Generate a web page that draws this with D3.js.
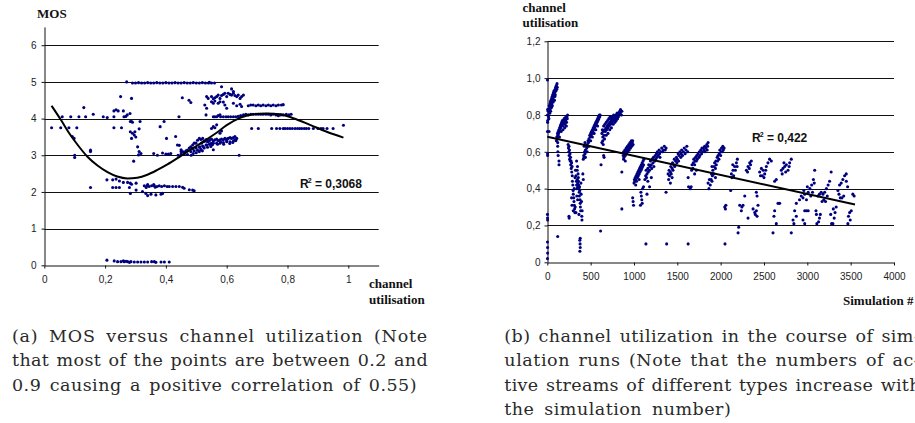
<!DOCTYPE html>
<html>
<head>
<meta charset="utf-8">
<script src="https://cdn.jsdelivr.net/npm/d3@7"></script>
<style>
  body { margin: 0; background: #fff; }
  .tick text { font-family: "Liberation Sans", Arial, sans-serif; font-size: 10px; fill: #222; }
  .title { font-family: "Liberation Serif", "Times New Roman", serif; font-weight: bold; font-size: 13px; fill: #111; }
  .r2 { font-family: "Liberation Sans", Arial, sans-serif; font-weight: bold; font-size: 12px; fill: #111; }
  .caption { font-family: "DejaVu Serif", serif; font-size: 17.5px; fill: #2a2a2a; }
</style>
</head>
<body>
<svg id="fig" width="915" height="423"></svg>
<script>
// ---- data: (a) MOS vs channel utilisation ----
const mosPoints = [
  [0.024,3.75],[0.054,3.75],[0.081,3.75],[0.107,3.75],[0.229,3.75],[0.254,3.75],
  [0.059,4.05],[0.087,4.05],[0.114,4.05],[0.136,4.05],[0.161,4.12],[0.194,4.05],[0.207,4.03],[0.229,4.05],[0.262,4.05],[0.273,4.1],[0.282,4.14],[0.268,4.06],
  [0.13,4.3],[0.092,3.51],[0.098,3.46],[0.1,3.0],[0.1,2.94],[0.152,3.14],[0.152,3.1],[0.152,2.12],
  [0.229,4.21],[0.236,4.24],[0.243,4.21],[0.26,4.21],[0.251,4.6],[0.287,4.55],
  [0.271,5.0],[0.29,4.97],[0.3,4.97],[0.31,4.98],[0.32,4.97],[0.33,4.97],[0.34,4.98],[0.35,4.97],[0.36,4.97],[0.37,4.98],[0.38,4.97],
  [0.39,4.97],[0.40,4.98],[0.41,4.97],[0.42,4.97],[0.43,4.98],[0.44,4.97],[0.45,4.97],[0.46,4.98],[0.47,4.97],[0.48,4.97],[0.49,4.98],
  [0.50,4.97],[0.51,4.97],[0.52,4.98],[0.53,4.97],[0.54,4.97],[0.543,4.99],[0.55,4.97],[0.56,4.97],
  [0.283,3.92],[0.287,3.92],[0.29,3.9],[0.315,3.92],[0.312,3.72],[0.283,3.64],[0.29,3.6],[0.296,3.55],[0.301,3.5],[0.298,3.64],[0.287,3.46],
  [0.307,3.23],[0.312,3.1],[0.318,3.05],[0.294,2.84],[0.31,3.01],
  [0.381,3.78],[0.394,3.92],[0.402,3.46],[0.432,3.51],[0.443,4.05],[0.454,4.57],[0.476,4.5],[0.482,4.44],
  [0.36,3.05],[0.372,3.0],[0.389,3.06],[0.4,3.03],[0.408,3.03],[0.416,3.05],
  [0.438,3.28],[0.444,3.27],[0.45,3.15],[0.455,3.1],[0.46,3.08],[0.466,3.12],[0.471,3.14],[0.477,3.2],[0.482,3.23],[0.488,3.28],[0.493,3.33],
  [0.499,3.33],[0.504,3.41],[0.51,3.46],[0.515,3.43],[0.521,3.46],[0.526,3.38],[0.532,3.42],[0.537,3.37],[0.543,3.4],[0.548,3.32],[0.553,3.29],
  [0.482,3.1],[0.488,3.18],[0.493,3.12],[0.499,3.2],[0.504,3.14],[0.51,3.22],[0.515,3.16],[0.521,3.25],[0.526,3.2],[0.532,3.28],[0.537,3.22],
  [0.543,3.3],[0.548,3.24],[0.553,3.33],[0.471,3.02],[0.46,3.02],[0.45,3.03],[0.44,3.0],[0.45,3.1],[0.483,3.0],[0.49,3.05],[0.5,3.07],
  [0.51,3.1],[0.52,3.12],
  [0.517,3.33],[0.523,3.37],[0.528,3.39],[0.534,3.42],[0.539,3.37],[0.545,3.42],[0.55,3.44],[0.556,3.39],[0.561,3.42],[0.567,3.44],[0.572,3.4],
  [0.578,3.42],[0.583,3.44],[0.589,3.42],[0.594,3.46],[0.6,3.44],[0.605,3.46],[0.611,3.48],[0.616,3.46],[0.622,3.48],[0.627,3.51],[0.633,3.46],
  [0.523,3.23],[0.534,3.28],[0.545,3.3],[0.556,3.33],[0.567,3.33],[0.578,3.33],[0.589,3.35],[0.6,3.37],[0.611,3.37],[0.622,3.39],[0.627,3.42],
  [0.556,3.15],[0.512,3.23],[0.57,3.3],[0.59,3.3],[0.61,3.32],[0.62,3.35],[0.63,3.4],[0.58,3.36],[0.6,3.4],
  [0.55,3.73],[0.556,3.78],[0.561,3.75],[0.567,3.83],[0.578,3.6],[0.583,3.66],
  [0.206,2.33],[0.225,2.33],[0.236,2.35],[0.247,2.3],[0.26,2.26],[0.274,2.26],[0.283,2.24],[0.287,2.21],[0.302,2.24],[0.225,2.12],[0.236,2.12],
  [0.247,2.12],[0.28,2.12],[0.283,1.96],[0.302,2.05],[0.323,2.01],[0.334,1.96],[0.34,1.9],[0.351,1.94],[0.367,1.92],[0.389,1.96],[0.384,1.94],
  [0.329,2.17],[0.338,2.17],[0.345,2.15],[0.353,2.17],[0.362,2.17],[0.371,2.15],[0.378,2.17],[0.386,2.15],[0.395,2.17],[0.404,2.15],[0.411,2.15],
  [0.422,2.15],[0.433,2.15],[0.444,2.15],[0.455,2.13],[0.34,2.2],[0.36,2.2],[0.46,2.1],[0.477,2.06],[0.488,2.05],[0.493,2.03],[0.335,2.12],[0.365,2.13],
  [0.206,0.14],[0.23,0.12],[0.241,0.1],[0.252,0.1],[0.263,0.1],[0.269,0.11],[0.274,0.1],[0.28,0.08],[0.285,0.1],[0.296,0.09],[0.307,0.09],
  [0.318,0.09],[0.329,0.09],[0.34,0.09],[0.353,0.1],[0.362,0.1],[0.367,0.08],[0.384,0.09],[0.395,0.09],[0.411,0.09],[0.26,0.12],
  [0.583,4.87],[0.616,4.81],[0.622,4.74],
  [0.534,4.6],[0.539,4.55],[0.55,4.6],[0.556,4.54],[0.561,4.57],[0.567,4.6],[0.572,4.64],[0.578,4.55],[0.583,4.63],[0.589,4.66],[0.594,4.69],
  [0.6,4.6],[0.605,4.69],[0.611,4.66],[0.616,4.64],[0.622,4.69],[0.627,4.63],[0.633,4.6],[0.638,4.64],[0.644,4.55],[0.649,4.6],[0.655,4.64],
  [0.55,4.46],[0.556,4.42],[0.561,4.48],[0.572,4.42],[0.578,4.46],[0.589,4.45],[0.594,4.37],[0.622,4.42],[0.633,4.35],[0.644,4.39],[0.649,4.33],
  [0.528,4.37],[0.534,4.28],[0.6,4.28],[0.561,4.05],[0.578,4.1],[0.532,4.1],
  [0.671,4.35],[0.679,4.37],[0.687,4.37],[0.696,4.35],[0.704,4.37],[0.712,4.35],[0.72,4.37],[0.729,4.35],[0.737,4.37],[0.745,4.35],[0.753,4.37],
  [0.762,4.35],[0.77,4.37],[0.78,4.37],[0.786,4.38],
  [0.556,4.05],[0.567,4.05],[0.572,4.08],[0.58,4.05],[0.589,4.05],[0.598,4.05],[0.605,4.05],[0.613,4.05],[0.622,4.05],[0.63,4.05],[0.638,4.06],
  [0.646,4.08],[0.655,4.1],[0.663,4.12],[0.671,4.1],[0.679,4.12],[0.687,4.12],[0.696,4.12],[0.704,4.12],[0.712,4.12],[0.72,4.12],[0.729,4.12],
  [0.737,4.12],[0.745,4.1],[0.753,4.12],[0.762,4.1],[0.77,4.08],[0.778,4.1],[0.786,4.1],[0.796,4.12],[0.805,4.1],[0.812,4.12],
  [0.682,3.73],[0.704,3.73],[0.748,3.73],[0.764,3.73],[0.775,3.73],[0.786,3.73],[0.792,3.73],[0.8,3.73],[0.808,3.73],[0.816,3.73],[0.825,3.73],
  [0.833,3.73],[0.84,3.73],[0.847,3.73],[0.855,3.73],[0.862,3.73],[0.87,3.73],[0.885,3.73],[0.9,3.73],[0.91,3.73],[0.917,3.73],[0.93,3.73],
  [0.95,3.73],[0.984,3.82],[0.641,3.0]
];
const mosTrend = [
  [0.024,4.35],[0.055,3.96],[0.082,3.6],[0.11,3.28],[0.142,2.96],[0.175,2.72],[0.208,2.54],[0.24,2.42],[0.273,2.37],[0.306,2.39],
  [0.339,2.47],[0.372,2.6],[0.405,2.75],[0.438,2.92],[0.471,3.1],[0.504,3.27],[0.536,3.44],[0.568,3.62],[0.6,3.82],[0.644,4.02],
  [0.687,4.12],[0.731,4.14],[0.775,4.12],[0.819,4.01],[0.874,3.83],[0.929,3.64],[0.984,3.48]
];
const mosYTicks = [0, 1, 2, 3, 4, 5, 6];
const mosXTicks = [0, 0.2, 0.4, 0.6, 0.8, 1];

// ---- data: (b) channel utilisation vs simulation number ----
const utilPoints = [
  [2,0.99],[3,0.83],[4,0.80],[3,0.76],[2,0.71],[3,0.59],[4,0.58],[2,0.26],[3,0.24],[4,0.23],[2,0.11],[3,0.08],[4,0.05],[2,0.02],[20,0.71],
  [5,0.77],[8,0.80],[10,0.82],[14,0.79],[16,0.83],[20,0.82],[22,0.85],[26,0.84],[30,0.86],[32,0.83],[36,0.87],[40,0.85],[42,0.88],
  [46,0.87],[50,0.89],[52,0.86],[56,0.90],[60,0.88],[62,0.91],[66,0.89],[70,0.92],[72,0.90],[76,0.93],[80,0.91],[82,0.88],[86,0.92],
  [90,0.94],[92,0.91],[96,0.95],[100,0.93],[104,0.96],[108,0.94],[112,0.97],[115,0.95],[18,0.78],[28,0.81],[38,0.82],[48,0.84],
  [58,0.85],[68,0.87],[78,0.88],[88,0.90],
  [120,0.14],[120,0.63],[122,0.6],[125,0.58],[135,0.55],[135,0.53],
  [105,0.66],[110,0.68],[115,0.67],[118,0.70],[122,0.69],[126,0.71],[130,0.70],[134,0.72],[138,0.71],[142,0.73],[146,0.72],[150,0.74],
  [154,0.73],[158,0.75],[162,0.74],[166,0.76],[170,0.75],[174,0.77],[178,0.76],[182,0.74],[186,0.77],[190,0.76],[194,0.78],[198,0.77],
  [202,0.75],[206,0.78],[210,0.77],[214,0.79],[218,0.78],[222,0.76],[226,0.79],[230,0.78],[234,0.80],[120,0.65],[140,0.68],[160,0.71],
  [180,0.72],[200,0.73],[220,0.74],
  [240,0.64],[244,0.62],[248,0.60],[250,0.63],[252,0.58],[256,0.61],[258,0.56],[262,0.59],[264,0.55],[268,0.57],[270,0.53],[274,0.55],
  [276,0.51],[280,0.54],[282,0.49],[286,0.52],[288,0.47],[290,0.44],[295,0.42],[298,0.39],[300,0.37],[305,0.35],[308,0.33],[312,0.31],
  [315,0.29],[318,0.27],[322,0.30],[310,0.40],[320,0.46],[325,0.50],[330,0.47],[335,0.44],[338,0.42],[342,0.40],[345,0.45],[350,0.43],
  [352,0.41],[355,0.48],[358,0.46],[360,0.44],[362,0.42],[365,0.40],[368,0.38],[370,0.36],[372,0.41],[375,0.39],[378,0.34],[380,0.32],
  [382,0.30],[385,0.28],[388,0.43],[390,0.37],[395,0.33],[398,0.25],[400,0.23],[402,0.28],[250,0.25],[252,0.24],[280,0.35],[285,0.31],
  [330,0.27],[340,0.36],[345,0.5],[348,0.52],[338,0.55],[300,0.28],[365,0.26],[350,0.34],
  [375,0.12],[378,0.10],[380,0.08],[376,0.06],[380,0.13],[415,0.45],[410,0.48],
  [415,0.56],[420,0.58],[425,0.57],[430,0.60],[435,0.59],[440,0.61],[445,0.60],[450,0.63],[455,0.62],[460,0.64],[465,0.63],[470,0.66],
  [475,0.65],[480,0.67],[485,0.66],[490,0.69],[495,0.68],[500,0.70],[505,0.69],[510,0.71],[515,0.70],[520,0.72],[525,0.71],[530,0.73],
  [535,0.72],[540,0.74],[545,0.73],[550,0.75],[555,0.74],[560,0.76],[565,0.75],[570,0.77],[575,0.76],[580,0.78],[585,0.77],[590,0.79],
  [595,0.78],[600,0.80],[605,0.79],[610,0.80],[440,0.57],[460,0.60],[480,0.63],[500,0.66],[520,0.68],[540,0.70],[560,0.72],[580,0.74],
  [425,0.63],[435,0.65],[615,0.17],[620,0.53],[650,0.58],[655,0.57],
  [630,0.70],[635,0.72],[640,0.68],[645,0.71],[650,0.74],[655,0.69],[660,0.72],[665,0.75],[670,0.71],[675,0.73],[680,0.76],[685,0.72],
  [690,0.74],[695,0.77],[700,0.73],[705,0.75],[710,0.78],[715,0.74],[720,0.76],[725,0.79],[730,0.75],[735,0.77],[740,0.78],[745,0.76],
  [750,0.79],[755,0.77],[760,0.78],[765,0.80],[770,0.77],[775,0.79],[780,0.76],[785,0.78],[790,0.80],[795,0.77],[800,0.79],[805,0.81],
  [810,0.78],[815,0.80],[820,0.79],[825,0.81],[830,0.80],[835,0.82],[840,0.81],[845,0.83],[850,0.82],[855,0.80],[860,0.82],[640,0.66],
  [660,0.67],[680,0.69],[700,0.70],[720,0.72],[740,0.73],[760,0.75],[630,0.65],[645,0.64],[860,0.49],[860,0.29],
  [876,0.58],[880,0.60],[885,0.57],[890,0.59],[895,0.61],[900,0.58],[905,0.60],[910,0.62],[915,0.59],[920,0.61],[925,0.63],[930,0.60],
  [935,0.62],[940,0.64],[945,0.61],[950,0.63],[955,0.65],[960,0.62],[965,0.64],[970,0.66],[975,0.63],[980,0.65],[985,0.66],[990,0.64],
  [880,0.56],[900,0.55],[990,0.33],[985,0.35],[995,0.31],
  [1000,0.43],[1005,0.45],[1010,0.44],[1015,0.46],[1020,0.45],[1025,0.47],[1030,0.44],[1035,0.48],[1040,0.46],[1045,0.49],[1050,0.47],
  [1055,0.50],[1060,0.48],[1065,0.51],[1070,0.49],[1075,0.52],[1080,0.50],[1085,0.53],[1090,0.51],[1095,0.54],[1100,0.52],[1105,0.55],
  [1110,0.53],[1115,0.56],[1020,0.42],[1060,0.45],[1080,0.38],[1085,0.36],[1090,0.34],[1095,0.32],[1075,0.31],[1100,0.40],[1110,0.41],
  [1138,0.10],
  [1126,0.45],[1135,0.47],[1140,0.50],[1145,0.46],[1150,0.48],[1160,0.51],[1165,0.49],[1170,0.53],[1180,0.50],[1185,0.52],[1190,0.55],
  [1200,0.53],[1205,0.51],[1210,0.56],[1220,0.54],[1225,0.57],[1230,0.52],[1240,0.55],[1245,0.58],[1250,0.56],[1260,0.59],[1265,0.57],
  [1270,0.60],[1280,0.58],[1290,0.61],[1295,0.59],[1300,0.57],[1310,0.60],[1320,0.62],[1330,0.60],[1340,0.61],[1350,0.63],[1360,0.61],
  [1370,0.62],[1180,0.41],[1160,0.44],[1200,0.46],[1150,0.37],[1377,0.10],[1370,0.38],
  [1394,0.48],[1400,0.45],[1405,0.50],[1410,0.47],[1420,0.49],[1425,0.52],[1430,0.48],[1440,0.51],[1445,0.54],[1450,0.50],[1460,0.53],
  [1465,0.56],[1470,0.52],[1480,0.55],[1490,0.57],[1495,0.54],[1500,0.56],[1510,0.59],[1515,0.55],[1520,0.58],[1530,0.60],[1540,0.57],
  [1545,0.59],[1550,0.61],[1560,0.58],[1570,0.60],[1580,0.62],[1590,0.59],[1600,0.61],[1610,0.63],[1620,0.60],[1420,0.43],[1440,0.46],
  [1625,0.10],[1625,0.46],[1630,0.41],[1660,0.41],[1650,0.40],
  [1665,0.50],[1670,0.53],[1680,0.51],[1685,0.54],[1690,0.56],[1700,0.53],[1705,0.55],[1710,0.57],[1720,0.55],[1725,0.58],[1730,0.56],
  [1740,0.59],[1750,0.57],[1755,0.60],[1760,0.58],[1770,0.61],[1780,0.59],[1785,0.62],[1790,0.60],[1800,0.62],[1810,0.61],[1815,0.63],
  [1820,0.60],[1830,0.62],[1840,0.64],[1845,0.61],[1850,0.63],[1855,0.65],[1700,0.48],[1720,0.50],[1855,0.43],[1865,0.40],[1870,0.45],
  [1880,0.42],[1890,0.45],[1895,0.48],[1900,0.44],[1905,0.47],[1910,0.50],[1920,0.48],[1925,0.52],[1930,0.54],[1940,0.51],[1945,0.55],
  [1950,0.53],[1960,0.57],[1965,0.55],[1970,0.58],[1980,0.56],[1985,0.59],[1990,0.61],[2000,0.58],[2005,0.60],[2010,0.62],[2020,0.60],
  [2025,0.63],[2030,0.61],[2040,0.62],[1900,0.52],[1940,0.46],[2047,0.30],[2055,0.29],[2060,0.31],[2050,0.10],
  [2116,0.39],[2124,0.48],[2143,0.50],[2162,0.52],[2182,0.54],[2193,0.56],[2130,0.46],[2150,0.47],[2170,0.50],[2190,0.52],[2140,0.53],
  [2201,0.16],[2208,0.19],[2220,0.31],[2239,0.28],[2258,0.31],[2245,0.30],[2278,0.36],
  [2297,0.50],[2316,0.52],[2335,0.54],[2354,0.55],[2310,0.49],[2330,0.51],[2345,0.53],[2316,0.24],
  [2374,0.29],[2393,0.27],[2412,0.28],[2431,0.31],[2400,0.26],[2420,0.25],[2412,0.38],[2420,0.36],
  [2450,0.49],[2470,0.51],[2490,0.50],[2508,0.48],[2527,0.52],[2546,0.54],[2565,0.56],[2585,0.55],[2460,0.47],[2500,0.46],[2480,0.47],[2520,0.50],
  [2604,0.16],[2615,0.25],[2623,0.28],[2642,0.21],[2662,0.32],[2681,0.32],[2623,0.44],[2642,0.45],
  [2700,0.50],[2719,0.51],[2739,0.52],[2758,0.53],[2777,0.50],[2796,0.54],[2815,0.56],[2710,0.48],[2750,0.49],[2790,0.52],[2730,0.54],
  [2815,0.16],[2854,0.28],[2873,0.32],[2873,0.25],[2835,0.23],[2845,0.21],
  [2910,0.34],[2930,0.36],[2950,0.35],[2970,0.37],[2990,0.34],[3010,0.38],[3030,0.40],[3050,0.42],[3070,0.45],[3085,0.50],[2960,0.39],
  [3000,0.41],[3040,0.36],[3060,0.38],[3080,0.43],
  [2950,0.23],[2970,0.21],[2970,0.28],[2990,0.28],[3010,0.28],[3100,0.28],[3105,0.26],[3110,0.21],[3130,0.22],[3140,0.24],[3150,0.26],
  [3122,0.36],[3140,0.37],[3160,0.38],[3180,0.37],[3200,0.38],[3220,0.40],[3240,0.42],[3257,0.44],[3275,0.49],[3170,0.33],[3190,0.34],
  [3230,0.36],[3210,0.33],
  [3295,0.21],[3310,0.24],[3320,0.27],[3333,0.30],[3300,0.29],[3280,0.21],[3270,0.26],
  [3353,0.39],[3372,0.42],[3391,0.43],[3410,0.45],[3430,0.47],[3449,0.48],[3380,0.35],[3400,0.35],[3420,0.36],[3365,0.37],
  [3468,0.21],[3475,0.25],[3488,0.27],[3507,0.28],[3495,0.23],[3525,0.37],[3540,0.36],[3465,0.41],[3450,0.44]
];
const utilTrend = [[0, 0.682], [3550, 0.314]];
const utilYTicks = [0, 0.2, 0.4, 0.6, 0.8, 1.0, 1.2];
const utilXTicks = [0, 500, 1000, 1500, 2000, 2500, 3000, 3500, 4000];

const captionA = [
  { text: "(a) MOS versus channel utilization (Note", w: 416 },
  { text: "that most of the points are between 0.2 and", w: 416 },
  { text: "0.9 causing a positive correlation of 0.55)", w: 405 }
];
const captionB = [
  { text: "(b) channel utilization in the course of sim-", w: 416 },
  { text: "ulation runs (Note that the numbers of ac-", w: 416 },
  { text: "tive streams of different types increase with", w: 416 },
  { text: "the simulation number)", w: 227 }
];

const svg = d3.select("#fig");
svg.append("rect").attr("width", 915).attr("height", 423).attr("fill", "#fff");

const comma = d => String(d).replace(".", ",");
const dotColor = "#00007f";

// draws one scatter panel
function panel(cfg) {
  const g = svg.append("g");
  const x = d3.scaleLinear().domain(cfg.xDomain).range(cfg.xRange);
  const y = d3.scaleLinear().domain(cfg.yDomain).range(cfg.yRange);

  // gridlines
  g.selectAll(".grid")
    .data(cfg.yTicks.filter(v => v > 0))
    .join("line")
    .attr("x1", cfg.xRange[0]).attr("x2", cfg.xRange[1])
    .attr("y1", d => Math.round(y(d)) + 0.5).attr("y2", d => Math.round(y(d)) + 0.5)
    .attr("stroke", "#111").attr("stroke-width", 1);

  const yAxis = g.append("g")
    .attr("transform", `translate(${Math.round(cfg.xRange[0]) + 0.5},0)`)
    .call(d3.axisLeft(y).tickValues(cfg.yTicks).tickFormat(cfg.yFormat).tickSize(3).tickSizeOuter(0).tickPadding(cfg.yPad));
  const xAxis = g.append("g")
    .attr("transform", `translate(0,${Math.round(cfg.yRange[0]) + 0.5})`)
    .call(d3.axisBottom(x).tickValues(cfg.xTicks).tickFormat(cfg.xFormat).tickSize(3).tickSizeOuter(0).tickPadding(7));
  [yAxis, xAxis].forEach(a => {
    a.selectAll("path, line").attr("stroke", "#111");
    a.selectAll("text").attr("font-family", null).attr("font-size", null);
  });

  // points
  g.append("g").selectAll("circle")
    .data(cfg.points)
    .join("circle")
    .attr("cx", d => x(d[0]))
    .attr("cy", d => y(d[1]))
    .attr("r", 1.55)
    .attr("fill", dotColor);

  // trend line
  g.append("path")
    .datum(cfg.trend)
    .attr("fill", "none")
    .attr("stroke", "#000")
    .attr("stroke-width", 2)
    .attr("d", d3.line().x(d => x(d[0])).y(d => y(d[1])).curve(d3.curveMonotoneX));

  // R squared label
  const r = g.append("text").attr("class", "r2").attr("x", cfg.r2Pos[0]).attr("y", cfg.r2Pos[1]);
  r.append("tspan").text("R");
  r.append("tspan").attr("font-size", "7px").attr("dy", -5).attr("dx", -1).text("2");
  r.append("tspan").attr("dy", 5).text(" = " + cfg.r2);
  return g;
}

panel({
  xDomain: [0, 1.1], xRange: [44.3, 378.7],
  yDomain: [0, 6.5], yRange: [265.3, 26.9],
  yTicks: mosYTicks, xTicks: mosXTicks,
  yFormat: comma, xFormat: comma, yPad: 5,
  points: mosPoints, trend: mosTrend,
  r2: "0,3068", r2Pos: [300, 188]
});

panel({
  xDomain: [0, 4000], xRange: [547.3, 894],
  yDomain: [0, 1.2], yRange: [262.3, 41.3],
  yTicks: utilYTicks, xTicks: utilXTicks,
  yFormat: d => d === 0 ? "0" : comma(d3.format(".1f")(d)), xFormat: d => String(d), yPad: 4,
  points: utilPoints, trend: utilTrend,
  r2: "0,422", r2Pos: [752, 142]
});

// axis titles
const titles = [
  { t: "MOS", x: 37, y: 18 },
  { t: "channel", x: 369, y: 288 },
  { t: "utilisation", x: 369, y: 304 },
  { t: "channel", x: 522.5, y: 12 },
  { t: "utilisation", x: 522.5, y: 27 },
  { t: "Simulation #", x: 843, y: 305 }
];
svg.selectAll(".title")
  .data(titles)
  .join("text")
  .attr("class", "title")
  .attr("x", d => d.x).attr("y", d => d.y)
  .text(d => d.t);

// captions, justified: part of the slack goes into letters, the rest into word spaces
function caption(lines, x0, y0) {
  svg.append("g").selectAll("text")
    .data(lines)
    .join("text")
    .attr("class", "caption")
    .attr("x", x0)
    .attr("y", (d, i) => y0 + i * 24.5)
    .text(d => d.text)
    .each(function (d) {
      const natural = this.getComputedTextLength();
      const gaps = (d.text.match(/ /g) || []).length;
      const extra = d.w - natural;
      const ls = extra > 0 ? 0.6 * extra / d.text.length : 0;
      const ws = gaps > 0 ? (extra - ls * d.text.length) / gaps : 0;
      d3.select(this).attr("letter-spacing", ls).attr("word-spacing", ws);
    });
}
caption(captionA, 12, 341.5);
caption(captionB, 504.3, 341.5);
</script>
</body>
</html>
